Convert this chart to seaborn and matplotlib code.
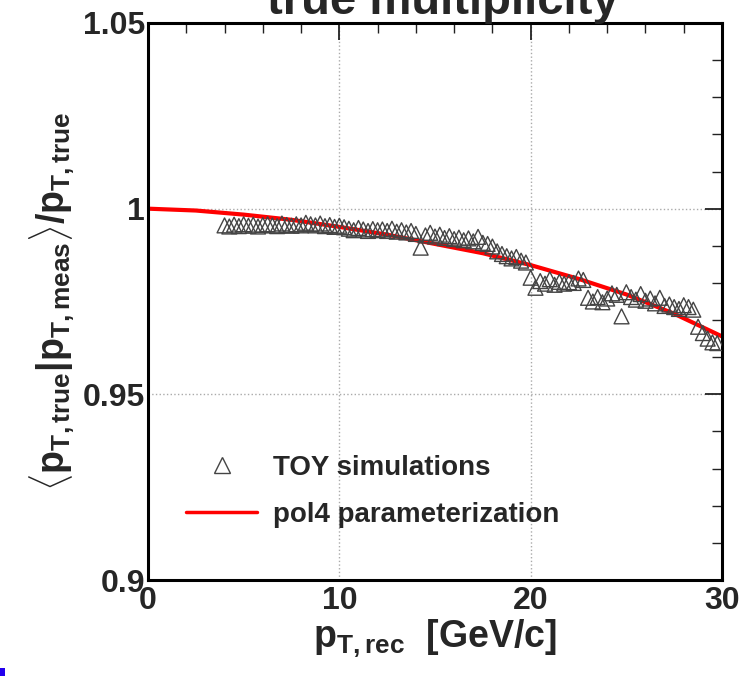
import numpy as np
import pandas as pd
import matplotlib
matplotlib.use("Agg")
import matplotlib.pyplot as plt
import seaborn as sns
from matplotlib.ticker import MultipleLocator
from matplotlib.lines import Line2D
from matplotlib.patches import Rectangle

# ---------------- data ----------------
toy_pt = [4.0 + 0.25 * i for i in range(104)]
toy_ratio = [
    0.9955, 0.9952, 0.9957, 0.9953, 0.9958, 0.9954, 0.9957, 0.9952, 0.9956,
    0.9958, 0.9955, 0.9953, 0.9960, 0.9956, 0.9954, 0.9958, 0.9955,
    0.9962, 0.9958, 0.9955, 0.9960, 0.9953, 0.9956, 0.9951, 0.9954,
    0.9950, 0.9946, 0.9942, 0.9948, 0.9944, 0.9940, 0.9945, 0.9942,
    0.9944, 0.9940, 0.9946, 0.9938, 0.9942, 0.9936, 0.9940, 0.9932,
    0.9895, 0.9928, 0.9935, 0.9925, 0.9930, 0.9921, 0.9926, 0.9918,
    0.9922, 0.9915, 0.9920, 0.9912, 0.9924, 0.9908, 0.9905, 0.9898,
    0.9885, 0.9878, 0.9872, 0.9866, 0.9870, 0.9860, 0.9855, 0.9814,
    0.9787, 0.9805, 0.9798, 0.9810, 0.9795, 0.9803, 0.9798, 0.9802,
    0.9800, 0.9812, 0.9808, 0.9760, 0.9750, 0.9762, 0.9748, 0.9758,
    0.9772, 0.9768, 0.9710, 0.9775, 0.9762, 0.9755, 0.9770, 0.9752,
    0.9758, 0.9745, 0.9760, 0.9738, 0.9742, 0.9735, 0.9730, 0.9740,
    0.9735, 0.9728, 0.9682, 0.9665, 0.9650, 0.9640, 0.9638,
]
fit_pt = [0, 2.5, 5, 7.5, 10, 12.5, 15, 17.5, 20, 22.5, 25, 27.5, 30]
fit_ratio = [1.0000, 0.9995, 0.9984, 0.9970, 0.9951, 0.9930, 0.9905,
             0.9880, 0.9848, 0.9811, 0.9769, 0.9717, 0.9656]

x_ticks = [0, 10, 20, 30]
x_tick_labels = ["0", "10", "20", "30"]
y_ticks = [0.9, 0.95, 1.0, 1.05]
y_tick_labels = ["0.9", "0.95", "1", "1.05"]

toy_df = pd.DataFrame({"pt": toy_pt, "ratio": toy_ratio})
fit_df = pd.DataFrame({"pt": fit_pt, "ratio": fit_ratio})

# ---------------- style ----------------
sns.set_theme(style="white")
plt.rcParams["font.family"] = ["Liberation Sans", "DejaVu Sans"]
plt.rcParams["font.weight"] = "bold"
plt.rcParams["mathtext.fontset"] = "custom"
plt.rcParams["mathtext.rm"] = "Liberation Sans:bold"
plt.rcParams["mathtext.bf"] = "Liberation Sans:bold"
plt.rcParams["mathtext.it"] = "Liberation Sans:bold"
plt.rcParams["mathtext.sf"] = "Liberation Sans:bold"

fig = plt.figure(figsize=(7.42, 6.76), dpi=100)
ax = fig.add_axes([148 / 742, 1 - 580 / 676, 574 / 742, 557 / 676])

sns.lineplot(data=fit_df, x="pt", y="ratio", ax=ax, color="#ff0000",
             linewidth=3, zorder=2, legend=False)
sns.scatterplot(data=toy_df, x="pt", y="ratio", ax=ax, marker="^", s=115,
                facecolor="none", edgecolor="#444444", linewidth=1.0,
                zorder=3, legend=False)

ax.set_xlim(0, 30)
ax.set_ylim(0.9, 1.05)
ax.set_xticks(x_ticks)
ax.set_xticklabels(x_tick_labels)
ax.set_yticks(y_ticks)
ax.set_yticklabels(y_tick_labels)
ax.xaxis.set_minor_locator(MultipleLocator(2))
ax.yaxis.set_minor_locator(MultipleLocator(0.01))
ax.tick_params(which="both", direction="in", top=True, right=True,
               color="#222222")
ax.tick_params(which="major", length=12, width=1.3, labelsize=23)
ax.tick_params(axis="y", which="major", pad=2)
ax.tick_params(axis="x", which="major", pad=4)
ax.tick_params(which="minor", length=7, width=1.0)
for lab in ax.get_xticklabels() + ax.get_yticklabels():
    lab.set_fontweight("bold")
ax.grid(True, which="major", linestyle=":", color="#aaaaaa", linewidth=1.0)
for sp in ax.spines.values():
    sp.set_color("black")
    sp.set_linewidth(2.2)

ax.set_xlabel(r"$\mathbf{p}_{\mathbf{T,rec}}$  [GeV/c]", fontsize=27,
              fontweight="bold", labelpad=2)
ax.set_ylabel(r"$\langle\mathbf{p}_{\mathbf{T,true}}|\mathbf{p}_{\mathbf{T,meas}}\rangle/\mathbf{p}_{\mathbf{T,true}}$",
              fontsize=27, fontweight="bold", labelpad=4)

handles = [
    Line2D([], [], marker="^", linestyle="none", markersize=11,
           markerfacecolor="none", markeredgecolor="#444444",
           markeredgewidth=1.0),
    Line2D([], [], color="#ff0000", linewidth=2.5),
]
leg = ax.legend(handles, ["TOY simulations", "pol4 parameterization"],
                loc="upper left", bbox_to_anchor=(0.047, 0.244),
                borderaxespad=0, frameon=False, handlelength=2.55,
                handletextpad=0.58, labelspacing=0.75,
                prop={"weight": "bold", "size": 20})

fig.text(0.597, 1 - 14 / 676, "true multiplicity", ha="center",
         va="baseline", fontsize=34, fontweight="bold")

fig.patches.append(Rectangle((0, 0), 5 / 742, 8 / 676,
                             transform=fig.transFigure,
                             facecolor="#2200ee", edgecolor="none"))

fig.savefig("out.png", dpi=100)
